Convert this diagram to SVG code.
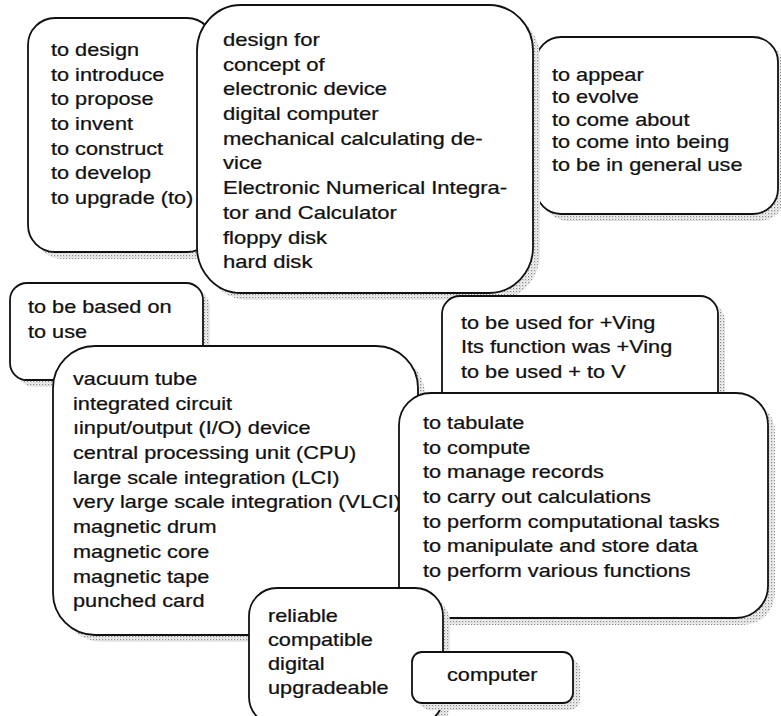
<svg xmlns="http://www.w3.org/2000/svg" width="781" height="716" viewBox="0 0 781 716">
  <style>
    .box { fill: #fff; stroke: #111; stroke-width: 1.8; }
    .shadow { fill: url(#halftone); }
    .t { font-family: "Liberation Sans", Arial, Helvetica, sans-serif; font-size: 17.5px; fill: #111; stroke: #111; stroke-width: 0.25; }
  </style>
  <defs>
    <!-- dotted halftone used for the drop shadows -->
    <pattern id="halftone" width="3" height="3" patternUnits="userSpaceOnUse">
      <rect width="3" height="3" fill="#f0f0f0"/>
      <rect x="0" y="0" width="1.2" height="1.2" fill="#8a8a8a"/>
      <rect x="1.5" y="1.5" width="0.9" height="0.9" fill="#b4b4b4"/>
    </pattern>
  </defs>
  <rect width="781" height="716" fill="#fff"/>

  <!-- verbs: creation -->
  <g id="node-verbs-create">
    <rect class="shadow" x="35" y="25" width="186" height="234" rx="27"/>
    <rect class="box" x="28" y="18" width="186" height="234" rx="27"/>
    <text class="t" transform="translate(51 56) scale(1.24 1)">
      <tspan x="0" y="0">to design</tspan>
      <tspan x="0" dy="24.7">to introduce</tspan>
      <tspan x="0" dy="24.7">to propose</tspan>
      <tspan x="0" dy="24.7">to invent</tspan>
      <tspan x="0" dy="24.7">to construct</tspan>
      <tspan x="0" dy="24.7">to develop</tspan>
      <tspan x="0" dy="24.7">to upgrade (to)</tspan>
    </text>
  </g>

  <!-- verbs: emergence -->
  <g id="node-verbs-appear">
    <rect class="shadow" x="543" y="44" width="242" height="177" rx="25"/>
    <rect class="box" x="536" y="37" width="242" height="177" rx="25"/>
    <text class="t" transform="translate(552 81) scale(1.24 1)">
      <tspan x="0" y="0">to appear</tspan>
      <tspan x="0" dy="22.4">to evolve</tspan>
      <tspan x="0" dy="22.4">to come about</tspan>
      <tspan x="0" dy="22.4">to come into being</tspan>
      <tspan x="0" dy="22.4">to be in general use</tspan>
    </text>
  </g>

  <!-- nouns: inventions -->
  <g id="node-nouns-inventions">
    <rect class="shadow" x="204" y="12" width="336" height="288" rx="44" ry="46"/>
    <rect class="box" x="197" y="5" width="336" height="288" rx="44" ry="46"/>
    <text class="t" transform="translate(223 46) scale(1.26 1)">
      <tspan x="0" y="0">design for</tspan>
      <tspan x="0" dy="24.7">concept of</tspan>
      <tspan x="0" dy="24.7">electronic device</tspan>
      <tspan x="0" dy="24.7">digital computer</tspan>
      <tspan x="0" dy="24.7">mechanical calculating de-</tspan>
      <tspan x="0" dy="24.7">vice</tspan>
      <tspan x="0" dy="24.7">Electronic Numerical Integra-</tspan>
      <tspan x="0" dy="24.7">tor and Calculator</tspan>
      <tspan x="0" dy="24.7">floppy disk</tspan>
      <tspan x="0" dy="24.7">hard disk</tspan>
    </text>
  </g>

  <!-- verbs: basis -->
  <g id="node-verbs-base">
    <rect class="shadow" x="17" y="290" width="193" height="97" rx="17"/>
    <rect class="box" x="10" y="283" width="193" height="97" rx="17"/>
    <text class="t" transform="translate(28 313) scale(1.24 1)">
      <tspan x="0" y="0">to be based on</tspan>
      <tspan x="0" dy="25">to use</tspan>
    </text>
  </g>

  <!-- nouns: components -->
  <g id="node-nouns-components">
    <rect class="shadow" x="60" y="353" width="365" height="289" rx="42"/>
    <rect class="box" x="53" y="346" width="365" height="289" rx="42"/>
    <text class="t" transform="translate(73 385) scale(1.24 1)">
      <tspan x="0" y="0">vacuum tube</tspan>
      <tspan x="0" dy="24.7">integrated circuit</tspan>
      <tspan x="0" dy="24.7">ıinput/output (I/O) device</tspan>
      <tspan x="0" dy="24.7">central processing unit (CPU)</tspan>
      <tspan x="0" dy="24.7">large scale integration (LCI)</tspan>
      <tspan x="0" dy="24.7">very large scale integration (VLCI)</tspan>
      <tspan x="0" dy="24.7">magnetic drum</tspan>
      <tspan x="0" dy="24.7">magnetic core</tspan>
      <tspan x="0" dy="24.7">magnetic tape</tspan>
      <tspan x="0" dy="24.7">punched card</tspan>
    </text>
  </g>

  <!-- patterns: purpose -->
  <g id="node-purpose-patterns">
    <rect class="shadow" x="449" y="303" width="276" height="120" rx="18"/>
    <rect class="box" x="442" y="296" width="276" height="120" rx="18"/>
    <text class="t" transform="translate(461 329) scale(1.24 1)">
      <tspan x="0" y="0">to be used for +Ving</tspan>
      <tspan x="0" dy="24.5">Its function was +Ving</tspan>
      <tspan x="0" dy="24.5">to be used + to V</tspan>
    </text>
  </g>

  <!-- verbs: functions -->
  <g id="node-verbs-functions">
    <rect class="shadow" x="406" y="400" width="369" height="225" rx="32"/>
    <rect class="box" x="399" y="393" width="369" height="225" rx="32"/>
    <text class="t" transform="translate(423 429) scale(1.24 1)">
      <tspan x="0" y="0">to tabulate</tspan>
      <tspan x="0" dy="24.7">to compute</tspan>
      <tspan x="0" dy="24.7">to manage records</tspan>
      <tspan x="0" dy="24.7">to carry out calculations</tspan>
      <tspan x="0" dy="24.7">to perform computational tasks</tspan>
      <tspan x="0" dy="24.7">to manipulate and store data</tspan>
      <tspan x="0" dy="24.7">to perform various functions</tspan>
    </text>
  </g>

  <!-- adjectives -->
  <g id="node-adjectives">
    <rect class="shadow" x="256" y="595" width="194" height="137" rx="28"/>
    <rect class="box" x="249" y="588" width="194" height="137" rx="28"/>
    <text class="t" transform="translate(268 622) scale(1.24 1)">
      <tspan x="0" y="0">reliable</tspan>
      <tspan x="0" dy="24.1">compatible</tspan>
      <tspan x="0" dy="24.1">digital</tspan>
      <tspan x="0" dy="24.1">upgradeable</tspan>
    </text>
  </g>

  <!-- central term -->
  <g id="node-computer">
    <rect class="shadow" x="419" y="659" width="161" height="51" rx="10"/>
    <rect class="box" x="412" y="652" width="161" height="51" rx="10"/>
    <text class="t" transform="translate(447 681) scale(1.24 1)">computer</text>
  </g>
</svg>
